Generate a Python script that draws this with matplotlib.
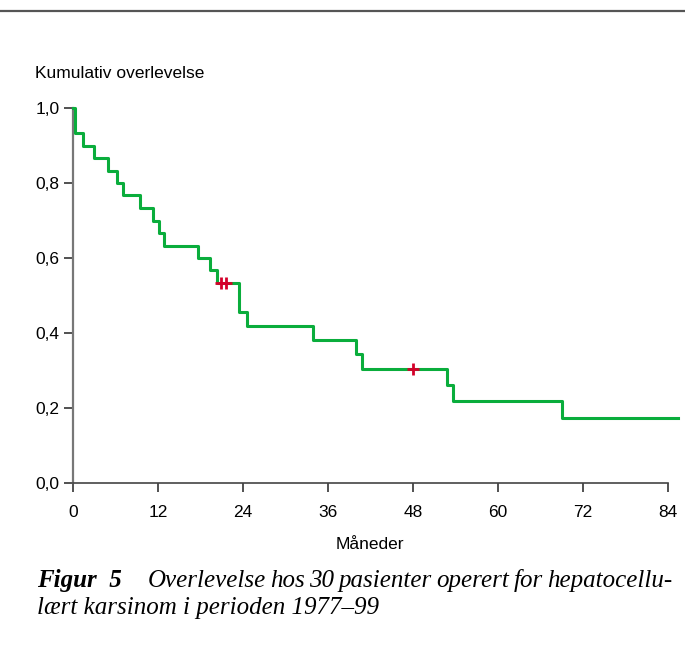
import matplotlib.pyplot as plt
from matplotlib.lines import Line2D

# Kaplan-Meier curve (months, cumulative survival)
step_months = [0, 0.3, 0.3, 1.4, 2.9, 5.0, 6.2, 7.1, 9.5, 11.3, 12.2, 12.8, 17.6,
               19.4, 20.4, 23.4, 23.4, 24.6, 33.9, 39.9, 40.8, 52.8, 53.7, 69.1, 85.5]
survival = [1.0, 0.967, 0.933, 0.9, 0.867, 0.833, 0.8, 0.767, 0.733, 0.7, 0.667,
            0.633, 0.6, 0.567, 0.533, 0.495, 0.457, 0.419, 0.381, 0.343, 0.305,
            0.261, 0.218, 0.174, 0.174]
censored_months = [20.9, 21.6, 48.0]
censored_surv = [0.533, 0.533, 0.305]

xticks = [0, 12, 24, 36, 48, 60, 72, 84]
yticks = [0.0, 0.2, 0.4, 0.6, 0.8, 1.0]
ytick_labels = ['0,0', '0,2', '0,4', '0,6', '0,8', '1,0']

caption_head = 'Figur  5'
caption_line1 = 'Overlevelse hos 30 pasienter operert for hepatocellu-'
caption_line2 = 'lært karsinom i perioden 1977\u201399'

plt.rcParams['font.family'] = ['Liberation Sans', 'DejaVu Sans']

fig = plt.figure(figsize=(6.85, 6.47), dpi=100)
ax = fig.add_axes([0.1066, 0.2535, 0.8684, 0.5795])

green = '#0aad3c'
red = '#d4002a'
ax.step(step_months, survival, where='post', color=green, lw=2.2, clip_on=False, zorder=3)
ax.plot(censored_months, censored_surv, ls='none', marker='+', color=red,
        ms=8, mew=2, clip_on=False, zorder=4)

ax.set_xlim(0, 84)
ax.set_ylim(0, 1)
ax.set_xticks(xticks)
ax.set_yticks(yticks)
ax.set_yticklabels(ytick_labels)
for s in ['top', 'right']:
    ax.spines[s].set_visible(False)
ax.spines['left'].set_color('#777777')
ax.spines['left'].set_linewidth(1.6)
ax.spines['bottom'].set_color('#444444')
ax.spines['bottom'].set_linewidth(1.2)
ax.tick_params(axis='both', direction='out', length=6.5, width=1.1, color='#222222',
               labelsize=12.5)
ax.tick_params(axis='x', pad=9)
ax.tick_params(axis='y', pad=3)

ax.set_xlabel('Måneder', fontsize=12.5, va='center')
ax.xaxis.set_label_coords(0.499, -0.163)
fig.text(35 / 685, 1 - 73 / 647, 'Kumulativ overlevelse', fontsize=12.5, va='center', ha='left')

# top rule
fig.add_artist(Line2D([0, 1], [1 - 11 / 647, 1 - 11 / 647], color='#555555', lw=1.6))

# caption, first line justified between the head and the right margin
cap_y1 = 1 - 581 / 647
cap_y2 = 1 - 608 / 647
cap_size = 18
fig.text(37 / 685, cap_y1, caption_head, family='Liberation Serif', style='italic',
         weight='bold', fontsize=cap_size, va='center', ha='left')
words = caption_line1.split()
left, right = 148 / 685, 672 / 685
fig.canvas.draw()
renderer = fig.canvas.get_renderer()
texts = [fig.text(0, cap_y1, w, family='Liberation Serif', style='italic',
                  fontsize=cap_size, va='center', ha='left') for w in words]
widths = [t.get_window_extent(renderer).width / fig.bbox.width for t in texts]
gap = (right - left - sum(widths)) / (len(words) - 1)
x = left
for t, w in zip(texts, widths):
    t.set_x(x)
    x += w + gap
fig.text(37 / 685, cap_y2, caption_line2, family='Liberation Serif', style='italic',
         fontsize=cap_size, va='center', ha='left')

plt.savefig('out.png', dpi=100)
